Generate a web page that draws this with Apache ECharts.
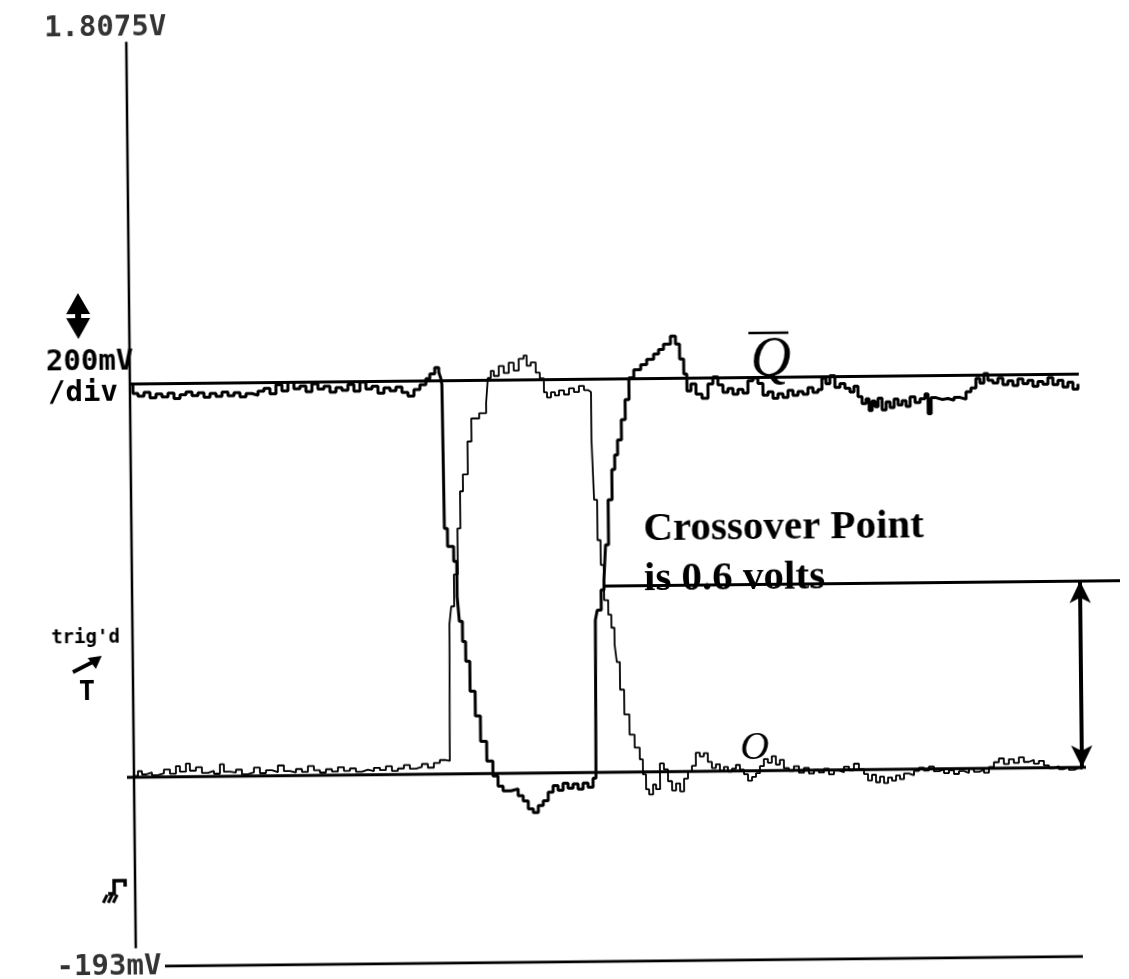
<!DOCTYPE html>
<html>
<head>
<meta charset="utf-8">
<script src="https://cdn.jsdelivr.net/npm/echarts@6/dist/echarts.min.js"></script>
<style>
  html, body { margin: 0; padding: 0; background: #fff; overflow: hidden; }
  /* the printout was scanned slightly tilted */
  #main { width: 1129px; height: 979px; transform: rotate(-0.6deg); }
</style>
</head>
<body>
<div id="main"></div>
<script>
// scope screen range, mV
const screenTop = 1807.5
const screenBottom = -193
const tickLabels = ['1.8075V', '-193mV']
const scaleLabels = ['200mV', '/div']

// reference levels drawn on the printout, mV
const levelHigh = 1048
const levelLow = 210
const crossover = 607
const axisTop = 1777
const axisBottom = -154

// Q-bar (thick trace): sample index across the screen, mV
const qbarTime = [
  0, 3, 8, 14, 20, 26, 32, 38, 44, 50, 56, 62, 68, 74, 80, 86, 92, 98, 104, 110,
  116, 122, 128, 134, 140, 146, 152, 158, 164, 170, 176, 182, 188, 194, 200, 206, 212, 218, 224, 230,
  236, 242, 248, 254, 260, 266, 272, 278, 284, 290, 296, 300, 305, 309, 311,
  312, 313, 316, 322, 325, 327, 330, 333, 337, 342, 347, 353, 359, 364, 369, 377, 384, 389, 394, 399,
  404, 409, 414, 419, 424, 429, 434, 439, 444, 449, 454, 459, 462, 463, 465, 469, 472, 474, 477, 481,
  484, 487, 491, 495, 499, 504, 511, 517, 524, 529, 534, 541, 546, 550, 554, 557, 561, 566,
  572, 578, 583, 588, 593, 598, 603, 608, 613, 618, 623, 628, 633, 638, 643, 648, 653, 658, 663, 668,
  673, 678, 683, 688, 692, 696, 700, 705, 710, 715, 720, 724, 728, 732, 736, 739, 742, 745, 748, 752,
  756, 760, 764, 768, 772, 776, 780, 785, 790, 795, 798, 801, 806, 812, 818, 824, 830, 836, 841, 846,
  850, 854, 858, 863, 868, 873, 878, 883, 888, 893, 898, 903, 908, 913, 918, 923, 928, 933, 938, 943, 948
]
const qbarMv = [
  1048, 1028, 1022, 1030, 1018, 1026, 1020, 1028, 1016, 1024, 1030, 1022, 1028, 1018, 1026, 1020, 1029, 1021, 1027, 1018,
  1025, 1021, 1030, 1036, 1024, 1043, 1030, 1048, 1034, 1040, 1028, 1044, 1033, 1039, 1026, 1036, 1030, 1042, 1028, 1047,
  1032, 1038, 1023, 1034, 1028, 1036, 1024, 1016, 1030, 1040, 1053, 1063, 1076, 1066, 1053,
  1040, 733, 695, 663, 588, 535, 492, 450, 386, 333, 279, 237, 205, 183, 173, 177, 162, 151, 134, 126,
  141, 151, 169, 183, 173, 188, 177, 186, 175, 188, 179, 198, 209, 535, 556, 599, 620, 695, 791, 855,
  886, 918, 961, 1004, 1050, 1067, 1078, 1089, 1100, 1110, 1121, 1138, 1121, 1089, 1057, 1021, 1036, 1014,
  1005, 1035, 1050, 1033, 1017, 1025, 1013, 1023, 1015, 1041, 1047, 1035, 1010, 1017, 1003, 1013, 1005, 1020, 1009, 1017,
  1011, 1025, 1015, 1021, 1045, 1033, 1050, 1025, 1033, 1023, 1015, 1027, 1005, 990, 1000, 975, 995, 983, 1001, 976,
  993, 981, 999, 986, 995, 983, 1003, 991, 999, 1009, 967, 1001, 997, 999, 995, 1001, 997, 1013, 1021, 1041,
  1031, 1051, 1037, 1031, 1041, 1027, 1035, 1025, 1039, 1029, 1036, 1023, 1033, 1027, 1041, 1026, 1035, 1021, 1031, 1016, 1027
]

// Q (thin trace)
const qTime = [
  0, 4, 8, 12, 18, 24, 30, 36, 42, 46, 52, 56, 62, 68, 74, 80, 86, 90, 96, 102,
  108, 114, 120, 126, 132, 138, 144, 150, 156, 162, 168, 174, 180, 186, 192, 198, 204, 210, 216, 222,
  228, 234, 240, 246, 252, 258, 264, 270, 276, 282, 288, 294, 300, 306, 312, 316,
  317, 319, 322, 326, 329, 332, 337, 341, 349, 356, 358, 361, 364, 369, 374, 379, 384, 389, 394, 397,
  401, 406, 410, 414, 417, 421, 425, 429, 434, 439, 444, 449, 454, 458, 460, 461, 463, 466, 469, 472,
  476, 479, 482, 484, 487, 491, 496, 501, 506, 509, 512, 515, 519, 522, 526, 530, 534, 538, 542, 546,
  550, 554, 558, 562, 566,
  570, 574, 578, 582, 586, 590, 594, 598, 602, 606, 610, 614, 618, 622, 626, 630, 634, 638, 642, 646,
  650, 655, 660, 665, 670, 675, 680, 685, 690, 695, 700, 705, 710, 715, 720, 725, 730, 734, 738, 742,
  746, 750, 754, 758, 762, 766, 770, 775, 780, 785, 790, 795, 800, 805, 810, 815, 820, 825, 830, 835,
  840, 845, 850, 855, 860, 865, 870, 875, 880, 885, 890, 895, 900, 905, 910, 915, 920, 925, 930, 935,
  940, 945, 948
]
const qMv = [
  213, 223, 216, 220, 214, 218, 226, 217, 233, 221, 238, 223, 230, 218, 222, 216, 236, 220, 218, 224,
  214, 218, 228, 216, 222, 218, 232, 220, 217, 224, 218, 230, 221, 216, 223, 218, 227, 219, 224, 217,
  221, 218, 225, 220, 228, 218, 223, 230, 222, 226, 232, 224, 234, 240, 238, 243,
  529, 567, 635, 733, 812, 848, 918, 967, 978, 999, 1053, 1068, 1057, 1078, 1063, 1085, 1068, 1093, 1100, 1078,
  1085, 1063, 1051, 1021, 1010, 1021, 1014, 1025, 1016, 1029, 1021, 1034, 1025, 1029, 1021, 918, 791, 705, 652, 577,
  546, 518, 482, 445, 386, 333, 290, 262, 237, 205, 173, 162, 183, 173, 228, 215, 190, 170, 185, 168,
  195, 210, 222, 250, 242,
  249, 230, 217, 225, 211, 219, 209, 215, 223, 213, 203, 189, 197, 205, 220, 235, 227, 241, 223, 233,
  215, 209, 219, 205, 215, 203, 211, 205, 213, 201, 209, 205, 217, 209, 223, 211, 201, 187, 199, 183,
  195, 181, 193, 186, 197, 189, 201, 197, 206, 213, 207, 215, 205, 209, 201, 207, 199, 205, 201, 209,
  203, 207, 201, 213, 223, 231, 219, 229, 221, 233, 223, 227, 219, 225, 215, 209, 213, 207, 211, 205,
  209, 207, 211
]

const iChart = echarts.init(document.getElementById('main'))

const toPairs = (t, v) => t.map((x, i) => [x, v[i]])

const flat = (name, from, to, level, width) => ({
  name,
  type: 'line',
  data: [[from, level], [to, level]],
  symbol: 'none',
  silent: true,
  lineStyle: { color: '#000', width }
})

const scopeFont = '"DejaVu Sans Mono", monospace'
const serif = '"Liberation Serif", "Times New Roman", serif'

const crossoverSeries = flat('crossover', 473, 988, crossover, 3)
crossoverSeries.markLine = {
  silent: true,
  animation: false,
  symbol: ['arrow', 'arrow'],
  symbolSize: [16, 22],
  label: { show: false },
  lineStyle: { color: '#000', width: 4, type: 'solid' },
  data: [[{ coord: [948, crossover] }, { coord: [948, levelLow] }]]
}

const option = {
  animation: false,
  backgroundColor: '#fff',
  grid: { left: 125, right: 4, top: 23, bottom: 17 },
  xAxis: { type: 'value', min: -6, max: 994, show: false },
  yAxis: { type: 'value', min: screenBottom, max: screenTop, show: false },
  series: [
    flat('high', 0, 949, levelHigh, 3),
    flat('low', -7, 952, levelLow, 3),
    crossoverSeries,
    flat('bottom', 29, 947, screenBottom, 3),
    {
      name: 'axis',
      type: 'line',
      data: [[0, axisTop], [0, axisBottom]],
      symbol: 'none',
      silent: true,
      lineStyle: { color: '#000', width: 2.5 }
    },
    {
      name: 'Q-bar',
      type: 'line',
      step: 'end',
      data: toPairs(qbarTime, qbarMv),
      symbol: 'none',
      lineStyle: { color: '#000', width: 3 }
    },
    {
      name: 'Q',
      type: 'line',
      step: 'end',
      data: toPairs(qTime, qMv),
      symbol: 'none',
      lineStyle: { color: '#000', width: 1.8 }
    },
    {
      name: 'scale',
      type: 'scatter',
      symbolSize: 1,
      silent: true,
      itemStyle: { color: 'transparent' },
      label: {
        show: true,
        position: 'inside',
        formatter: p => p.data.text,
        color: '#000',
        fontFamily: scopeFont,
        fontWeight: 'bold',
        fontSize: 29
      },
      data: [
        { value: [0, screenTop], text: tickLabels[0], label: { offset: [-21, 0] } },
        { value: [0, screenBottom], text: tickLabels[1], label: { offset: [-27, 0] } }
      ]
    }
  ],
  graphic: [
    { type: 'text', x: 91, y: 357, style: { text: scaleLabels[0], font: 'bold 29px ' + scopeFont, fill: '#000', align: 'center', verticalAlign: 'middle' } },
    { type: 'text', x: 84, y: 388, style: { text: scaleLabels[1], font: 'bold 29px ' + scopeFont, fill: '#000', align: 'center', verticalAlign: 'middle' } },
    // volts/div double arrow
    {
      type: 'polygon',
      shape: { points: [[80, 288], [92, 309], [83, 309], [83, 313], [92, 313], [80, 334], [68, 313], [77, 313], [77, 309], [68, 309]] },
      style: { fill: '#000' }
    },
    { type: 'text', x: 84, y: 633, style: { text: "trig'd", font: 'bold 19px ' + scopeFont, fill: '#000', align: 'center', verticalAlign: 'middle' } },
    { type: 'line', shape: { x1: 71, y1: 667, x2: 91, y2: 657 }, style: { stroke: '#000', lineWidth: 4 } },
    { type: 'polygon', shape: { points: [[100, 651], [86, 653], [94, 664]] }, style: { fill: '#000' } },
    { type: 'text', x: 85, y: 688, style: { text: 'T', font: 'bold 27px ' + scopeFont, fill: '#000', align: 'center', verticalAlign: 'middle' } },
    // trigger slope glyph
    { type: 'polyline', shape: { points: [[104, 889], [110, 889], [110, 876], [121, 876], [121, 882]] }, style: { stroke: '#000', lineWidth: 3.5, fill: null } },
    { type: 'line', shape: { x1: 99, y1: 898, x2: 103, y2: 890 }, style: { stroke: '#000', lineWidth: 3 } },
    { type: 'line', shape: { x1: 104, y1: 898, x2: 108, y2: 890 }, style: { stroke: '#000', lineWidth: 3 } },
    { type: 'line', shape: { x1: 109, y1: 898, x2: 113, y2: 890 }, style: { stroke: '#000', lineWidth: 3 } },
    // trace names
    { type: 'text', x: 752, y: 363, style: { text: 'Q', font: 'italic 56px ' + serif, fill: '#000', align: 'left', verticalAlign: 'middle' } },
    { type: 'line', shape: { x1: 750, y1: 335, x2: 790, y2: 335 }, style: { stroke: '#000', lineWidth: 2.5 } },
    { type: 'text', x: 752, y: 750, style: { text: 'O', font: 'italic 40px ' + serif, fill: '#000', align: 'center', verticalAlign: 'middle' } },
    { type: 'text', x: 643, y: 530, style: { text: 'Crossover Point', font: 'bold 41px ' + serif, fill: '#000', align: 'left', verticalAlign: 'middle' } },
    { type: 'text', x: 643, y: 580, style: { text: 'is 0.6 volts', font: 'bold 41px ' + serif, fill: '#000', align: 'left', verticalAlign: 'middle' } }
  ]
}

iChart.setOption(option)
</script>
</body>
</html>
